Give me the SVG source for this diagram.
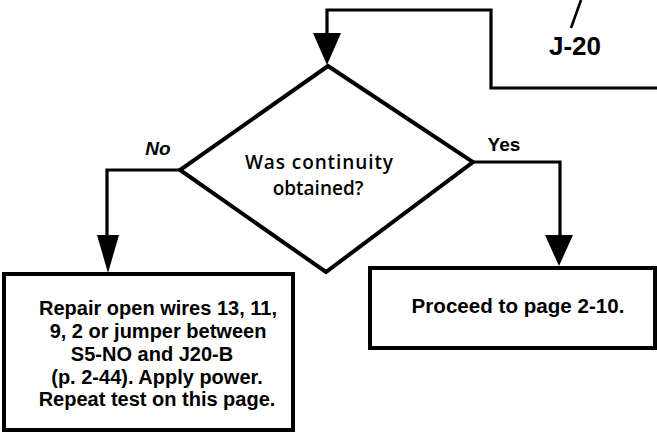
<svg xmlns="http://www.w3.org/2000/svg" width="657" height="433" viewBox="0 0 657 433">
<style>
.box{fill:#fff;stroke:#000;stroke-width:4}
.dia{fill:#fff;stroke:#000;stroke-width:4;stroke-linejoin:miter}
.ln{fill:none;stroke:#000;stroke-width:3.2}
.ah{fill:#000}
.t{font-family:"Liberation Sans",Arial,sans-serif;fill:#000;text-anchor:middle}
.o{font-family:"Open Sans","Liberation Sans",sans-serif;font-weight:600}
.b{font-weight:bold}
</style>
<rect width="657" height="433" fill="#fff"/>
<g id="connectors">
<polyline class="ln" points="657,88 491,88 491,10 327,10 327,40"/>
<polygon class="ah" points="313,33 341,33 327,65"/>
<polyline class="ln" points="180,170 107,170 107,240"/>
<polygon class="ah" points="97,235 119,235 108,273"/>
<polyline class="ln" points="473,162 560,162 560,240"/>
<polygon class="ah" points="545,235 573,235 559,266"/>
<line x1="581" y1="0" x2="571" y2="28" stroke="#000" stroke-width="2.6"/>
<text class="t b" x="158" y="155" font-size="19" font-style="italic">No</text>
<text class="t b" x="504" y="151" font-size="19">Yes</text>
</g>
<g id="j20">
<text class="t b" x="575" y="55" font-size="26">J-20</text>
</g>
<g id="decision">
<polygon class="dia" points="328,66 473,162 326,272 180,170"/>
<text class="t o" x="319" y="169" font-size="19" textLength="148">Was continuity</text>
<text class="t o" x="318" y="195" font-size="19">obtained?</text>
</g>
<g id="repair">
<rect class="box" x="4" y="274" width="289" height="156"/>
<text class="t b" font-size="20" x="158" y="315">Repair open wires 13, 11,</text>
<text class="t b" font-size="20" x="158" y="338">9, 2 or jumper between</text>
<text class="t b" font-size="20" x="152" y="361">S5-NO and J20-B</text>
<text class="t b" font-size="20" x="157" y="384">(p. 2-44). Apply power.</text>
<text class="t b" font-size="20" x="157" y="406">Repeat test on this page.</text>
</g>
<g id="proceed">
<rect class="box" x="370" y="268" width="285" height="80"/>
<text class="t b" font-size="20.6" x="518" y="313">Proceed to page 2-10.</text>
</g>
</svg>
